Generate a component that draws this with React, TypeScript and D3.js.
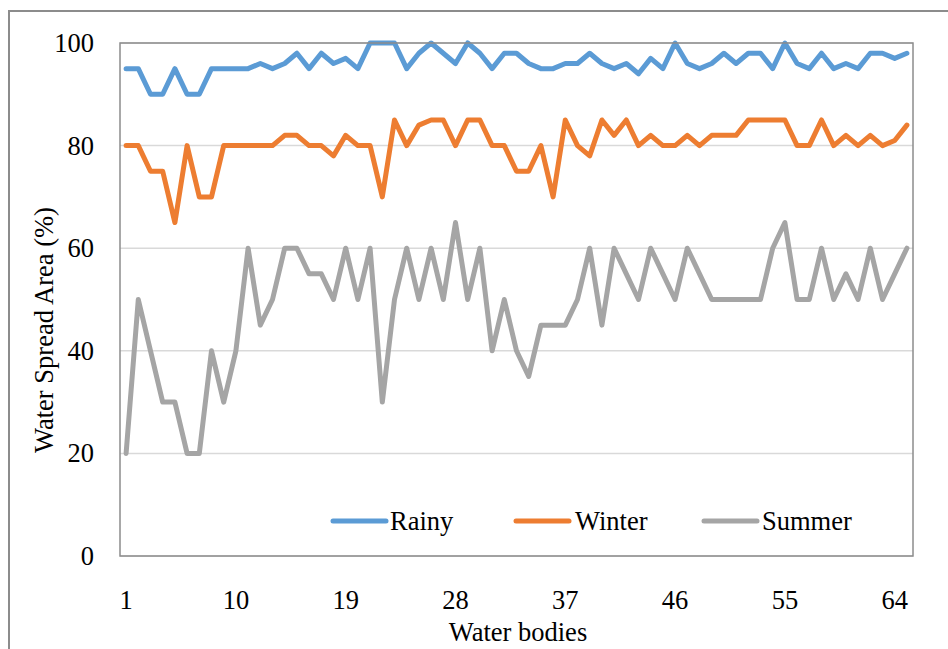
import React from "react";
import * as d3 from "d3";

// Water spread area (%) per water body, by season
const bodies: number[] = d3.range(1, 66);

const rainy: number[] = [
  95, 95, 90, 90, 95, 90, 90, 95, 95, 95, 95, 96, 95, 96, 98, 95, 98, 96, 97, 95, 100, 100,
  100, 95, 98, 100, 98, 96, 100, 98, 95, 98, 98, 96, 95, 95, 96, 96, 98, 96, 95, 96, 94, 97,
  95, 100, 96, 95, 96, 98, 96, 98, 98, 95, 100, 96, 95, 98, 95, 96, 95, 98, 98, 97, 98,
];

const winter: number[] = [
  80, 80, 75, 75, 65, 80, 70, 70, 80, 80, 80, 80, 80, 82, 82, 80, 80, 78, 82, 80, 80, 70,
  85, 80, 84, 85, 85, 80, 85, 85, 80, 80, 75, 75, 80, 70, 85, 80, 78, 85, 82, 85, 80, 82,
  80, 80, 82, 80, 82, 82, 82, 85, 85, 85, 85, 80, 80, 85, 80, 82, 80, 82, 80, 81, 84,
];

const summer: number[] = [
  20, 50, 40, 30, 30, 20, 20, 40, 30, 40, 60, 45, 50, 60, 60, 55, 55, 50, 60, 50, 60, 30,
  50, 60, 50, 60, 50, 65, 50, 60, 40, 50, 40, 35, 45, 45, 45, 50, 60, 45, 60, 55, 50, 60,
  55, 50, 60, 55, 50, 50, 50, 50, 50, 60, 65, 50, 50, 60, 50, 55, 50, 60, 50, 55, 60,
];

const xTickLabels: number[] = [1, 10, 19, 28, 37, 46, 55, 64];
const yTicks: number[] = [0, 20, 40, 60, 80, 100];

const seriesNames = ["Rainy", "Winter", "Summer"];
const seriesColors = ["#5B9BD5", "#ED7D31", "#A5A5A5"];

const W = 948;
const H = 649;
const plot = { left: 120, right: 913, top: 43, bottom: 556 };
const textStyle: React.CSSProperties = {
  fontFamily: "'Liberation Serif', 'Times New Roman', Times, serif",
  fontSize: "26.5px",
  fill: "#000",
};

export default function App() {
  const x = d3
    .scaleBand<number>()
    .domain(bodies)
    .range([plot.left, plot.right])
    .padding(0);
  const cx = (b: number) => (x(b) as number) + x.bandwidth() / 2;
  const y = d3.scaleLinear().domain([0, 100]).range([plot.bottom, plot.top]);

  const line = d3
    .line<number>()
    .x((_, i) => cx(bodies[i]))
    .y((v) => y(v));

  const allSeries = [rainy, winter, summer];

  const legendItems = [
    { x0: 333, text: 390 },
    { x0: 516, text: 575 },
    { x0: 704, text: 762 },
  ];

  return (
    <svg
      width={W}
      height={H}
      style={{ position: "absolute", left: 0, top: 0, background: "#fff" }}
    >
      {/* outer chart frame */}
      <rect x={9} y={11} width={980} height={700} fill="#fff" stroke="#8c8c8c" strokeWidth={2} />

      {/* gridlines */}
      {yTicks.map((t) => (
        <line
          key={"g" + t}
          x1={plot.left}
          x2={plot.right}
          y1={y(t)}
          y2={y(t)}
          stroke="#d9d9d9"
          strokeWidth={1.5}
        />
      ))}

      {/* series */}
      {allSeries.map((s, k) => (
        <path
          key={seriesNames[k]}
          d={line(s) || ""}
          fill="none"
          stroke={seriesColors[k]}
          strokeWidth={5}
          strokeLinejoin="round"
          strokeLinecap="round"
        />
      ))}

      {/* plot area border */}
      <rect
        x={plot.left}
        y={plot.top}
        width={plot.right - plot.left}
        height={plot.bottom - plot.top}
        fill="none"
        stroke="#8c8c8c"
        strokeWidth={1.5}
      />

      {/* y tick labels */}
      {yTicks.map((t) => (
        <text key={"y" + t} x={94} y={y(t) + 9} textAnchor="end" style={textStyle}>
          {t}
        </text>
      ))}

      {/* x tick labels */}
      {xTickLabels.map((t) => (
        <text key={"x" + t} x={cx(t)} y={609} textAnchor="middle" style={textStyle}>
          {t}
        </text>
      ))}

      {/* axis titles */}
      <text x={518} y={641} textAnchor="middle" style={textStyle}>
        Water bodies
      </text>
      <text
        transform="translate(53, 330) rotate(-90)"
        textAnchor="middle"
        style={textStyle}
      >
        Water Spread Area (%)
      </text>

      {/* legend */}
      {legendItems.map((it, k) => (
        <g key={"l" + k}>
          <line
            x1={it.x0}
            x2={it.x0 + 53}
            y1={521}
            y2={521}
            stroke={seriesColors[k]}
            strokeWidth={5}
            strokeLinecap="round"
          />
          <text x={it.text} y={530} style={textStyle}>
            {seriesNames[k]}
          </text>
        </g>
      ))}
    </svg>
  );
}
